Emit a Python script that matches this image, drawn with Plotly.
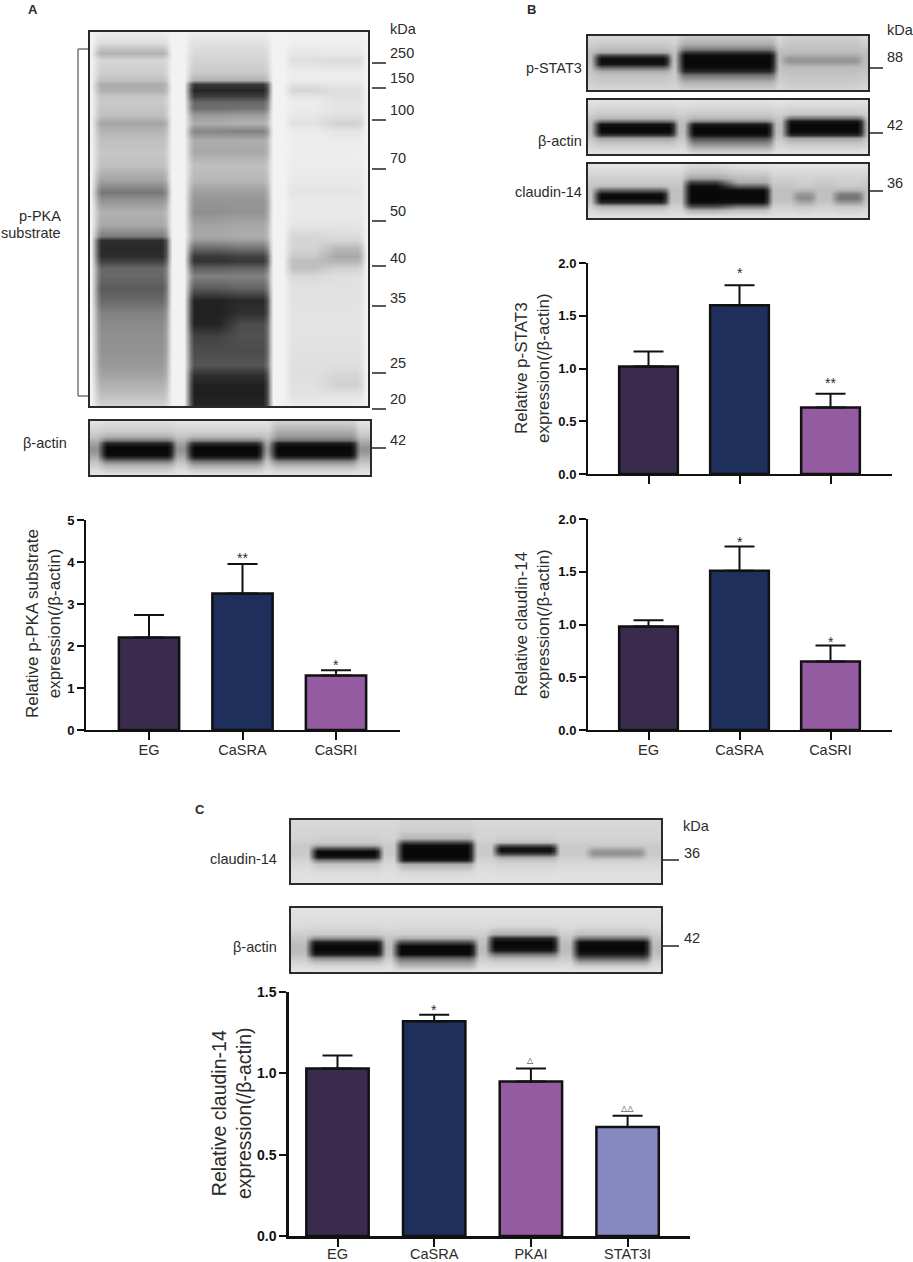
import plotly.graph_objects as go

W, H = 913, 1262
FONT = 'Liberation Sans, Arial, sans-serif'
INK = '#2b2b2b'

# bar chart values (mean and the upper error length)
groups_abc = ['EG', 'CaSRA', 'CaSRI']
groups_c = ['EG', 'CaSRA', 'PKAI', 'STAT3I']

pka_mean = [2.2, 3.25, 1.3]
pka_err = [0.54, 0.70, 0.12]
pka_marks = ['', '**', '*']

stat3_mean = [1.02, 1.6, 0.63]
stat3_err = [0.14, 0.19, 0.13]
stat3_marks = ['', '*', '**']

cldn_mean = [0.98, 1.51, 0.65]
cldn_err = [0.06, 0.23, 0.15]
cldn_marks = ['', '*', '*']

cldn_c_mean = [1.03, 1.32, 0.95, 0.67]
cldn_c_err = [0.08, 0.04, 0.08, 0.07]
cldn_c_marks = ['', '*', '△', '△△']

bar_colors = ['#3a2a4d', '#1f2f5c', '#955ba0', '#8589c0']

# blot densities, grey level per row (0 black, 255 white)
pka_rows = [32, 42, 53, 60, 72, 80, 84, 90, 96, 102, 108, 115, 123, 131, 140, 152, 165, 180, 192, 202,
            212, 225, 236, 240, 248, 256, 261, 268, 276, 288, 300, 312, 324, 336, 350, 365, 375, 385, 395, 406]
pka_bg = [242] * 40
pka_lane1 = [235, 222, 175, 212, 205, 190, 170, 172, 195, 200, 195, 190, 162, 178, 190, 195, 190, 160, 115, 150,
             175, 165, 120, 40, 35, 38, 60, 98, 100, 85, 100, 125, 135, 140, 143, 150, 160, 175, 190, 210]
pka_lane2 = [235, 225, 215, 210, 200, 175, 50, 30, 55, 100, 105, 150, 170, 130, 170, 165, 190, 180, 155, 145,
             140, 160, 165, 150, 100, 50, 45, 90, 125, 85, 28, 25, 28, 60, 70, 80, 40, 25, 25, 30]
pka_lane2b = [235, 225, 215, 210, 200, 175, 50, 30, 55, 100, 110, 155, 175, 125, 170, 165, 190, 180, 155, 145,
              145, 165, 170, 155, 110, 60, 50, 95, 125, 95, 35, 40, 70, 75, 70, 80, 40, 25, 25, 30]
pka_lane3 = [240, 238, 230, 222, 235, 235, 225, 212, 228, 235, 235, 230, 225, 235, 236, 237, 235, 232, 228, 232,
             232, 228, 212, 212, 210, 200, 188, 190, 215, 225, 225, 226, 226, 226, 224, 222, 222, 224, 226, 238]
pka_lane3b = [240, 238, 232, 218, 235, 235, 230, 222, 222, 226, 228, 222, 208, 228, 235, 237, 235, 232, 228, 232,
              232, 228, 218, 212, 182, 165, 178, 208, 222, 225, 225, 226, 226, 226, 224, 222, 212, 208, 226, 238]

actin_a_rows = [422, 430, 436, 440, 443, 447, 451, 455, 458, 461, 465, 470, 474]
actin_a_bg = [225, 210, 195, 175, 160, 145, 145, 160, 175, 190, 205, 220, 228]
actin_a_lane1 = [220, 205, 175, 120, 30, 0, 0, 5, 50, 120, 175, 205, 225]
actin_a_lane2 = [225, 210, 185, 130, 40, 0, 0, 5, 40, 110, 165, 205, 225]
actin_a_lane3 = [205, 175, 150, 110, 20, 0, 0, 5, 50, 130, 175, 210, 225]

stat3_rows = [37, 44, 49, 52, 55, 58, 61, 64, 67, 71, 75, 82, 89]
stat3_bg = [215, 205, 195, 190, 185, 185, 185, 190, 190, 195, 200, 205, 215]
stat3_lane1 = [212, 200, 185, 170, 70, 10, 5, 15, 90, 170, 190, 200, 212]
stat3_lane2 = [195, 170, 120, 50, 5, 0, 0, 0, 5, 30, 110, 175, 205]
stat3_lane3 = [205, 195, 190, 185, 170, 150, 145, 165, 185, 190, 195, 200, 210]

actin_b_rows = [101, 108, 114, 118, 121, 124, 128, 132, 135, 138, 142, 147, 153]
actin_b_bg = [225, 215, 205, 195, 190, 185, 185, 185, 190, 195, 205, 215, 225]
actin_b_lane1 = [225, 212, 198, 180, 110, 10, 0, 5, 50, 160, 190, 210, 225]
actin_b_lane2 = [225, 212, 198, 180, 130, 20, 0, 0, 15, 70, 120, 170, 215]
actin_b_lane3 = [225, 212, 195, 110, 15, 0, 0, 5, 40, 160, 190, 210, 225]

cldn_b_rows = [165, 172, 178, 182, 186, 190, 194, 198, 202, 206, 210, 215, 217]
cldn_b_bg = [225, 215, 205, 200, 195, 190, 190, 190, 195, 205, 215, 222, 226]
cldn_b_lane1 = [225, 215, 205, 200, 185, 90, 5, 0, 30, 170, 205, 220, 226]
cldn_b_lane2 = [215, 195, 160, 60, 5, 0, 0, 0, 5, 70, 170, 215, 226]
cldn_b_lane2b = [225, 205, 185, 170, 90, 5, 0, 0, 10, 110, 190, 218, 226]
cldn_b_lane3 = [225, 215, 208, 205, 200, 180, 145, 135, 165, 195, 210, 222, 226]
cldn_b_lane4 = [225, 215, 208, 205, 200, 175, 120, 110, 150, 195, 210, 222, 226]

cldn_c_rows = [821, 830, 838, 842, 845, 848, 851, 854, 857, 860, 864, 872, 882]
cldn_c_bg = [215, 212, 210, 205, 200, 200, 200, 200, 205, 210, 215, 222, 225]
cldn_c_lane1 = [215, 212, 205, 200, 170, 80, 5, 0, 20, 120, 195, 218, 225]
cldn_c_lane2 = [210, 205, 180, 70, 5, 0, 0, 0, 0, 20, 170, 215, 225]
cldn_c_lane3 = [215, 212, 205, 190, 80, 10, 10, 70, 165, 195, 210, 220, 225]
cldn_c_lane4 = [215, 212, 210, 205, 200, 175, 145, 145, 175, 205, 215, 222, 225]

actin_c_rows = [909, 918, 926, 934, 938, 942, 946, 950, 954, 958, 962, 966, 971]
actin_c_bg = [225, 222, 218, 205, 195, 190, 185, 185, 190, 200, 212, 220, 228]
actin_c_lane1 = [225, 222, 215, 200, 140, 20, 0, 0, 20, 140, 190, 215, 228]
actin_c_lane2 = [225, 222, 215, 205, 170, 70, 0, 0, 5, 100, 150, 185, 225]
actin_c_lane3 = [225, 222, 215, 170, 30, 0, 0, 15, 110, 180, 205, 218, 228]
actin_c_lane4 = [225, 222, 215, 190, 110, 5, 0, 0, 20, 90, 160, 205, 228]

fig = go.Figure()
axis_count = 0


def next_axes():
    global axis_count
    axis_count += 1
    n = '' if axis_count == 1 else str(axis_count)
    return 'x' + n, 'y' + n, 'xaxis' + n, 'yaxis' + n


def label(x, y, text, size=14.5, anchor='left', bold=False):
    if bold:
        text = '<b>' + text + '</b>'
    fig.add_annotation(xref='paper', yref='paper', x=x / W, y=1 - y / H, text=text, showarrow=False,
                       xanchor=anchor, yanchor='middle', align='center',
                       font=dict(family=FONT, size=size, color=INK))


def ytitle(x, y, text, size=17):
    fig.add_annotation(xref='paper', yref='paper', x=x / W, y=1 - y / H, text=text, showarrow=False,
                       textangle=-90, xanchor='center', yanchor='middle', align='center',
                       font=dict(family=FONT, size=size, color=INK))


def line(x0, y0, x1, y1, color='#222222', width=1.5):
    fig.add_shape(type='line', xref='paper', yref='paper', x0=x0 / W, x1=x1 / W, y0=1 - y0 / H, y1=1 - y1 / H,
                  line=dict(color=color, width=width))


def mix(profile, bg, share):
    return [b + (p - b) * share for p, b in zip(profile, bg)]


def blot(box, rows, bg, lanes):
    """box is the frame in page pixels, lanes is a list of (x start, x end, profile[, right part profile])"""
    left, top, right, bottom = box
    xs = [left]
    cols = [bg]
    for lane in lanes:
        start, end, first = lane[0] - 3, lane[1] + 3, lane[2]
        last = lane[3] if len(lane) > 3 else first
        # band ends fade over a few pixels so the dark core comes out rounded
        reach = min(7, (end - start) / 3)
        xs += [start - 3, start, start + reach / 2, start + reach]
        cols += [bg, mix(first, bg, 0.35), mix(first, bg, 0.8), first]
        if last is not first:
            mid = (start + end) / 2
            xs += [mid - 11, mid + 11]
            cols += [first, last]
        xs += [end - reach, end - reach / 2, end, end + 3]
        cols += [last, mix(last, bg, 0.8), mix(last, bg, 0.35), bg]
    xs.append(right)
    cols.append(bg)
    z = [[col[i] for col in cols] for i in range(len(rows))]
    xid, yid, xname, yname = next_axes()
    fig.add_trace(go.Heatmap(x=xs, y=rows, z=z, zmin=0, zmax=255, zsmooth='best', showscale=False,
                             colorscale=[[0, '#080808'], [1, '#ffffff']], xaxis=xid, yaxis=yid,
                             hoverinfo='skip'))
    frame = dict(showline=True, mirror=True, linecolor='#2a2a2a', linewidth=1.5, showticklabels=False,
                 ticks='', showgrid=False, zeroline=False, automargin=False)
    fig.update_layout({
        xname: dict(frame, domain=[left / W, right / W], range=[left, right], anchor=yid),
        yname: dict(frame, domain=[1 - bottom / H, 1 - top / H], range=[bottom, top], anchor=xid),
    })


def bars(names, mean, err, marks, shifts, px_x, px_y, ymax, dtick, size=13, ticklabels=True, lw=2, standoff=-2):
    """px_x = (axis left, first bar centre, bar spacing, axis right), px_y = (top, bottom)"""
    left, first, step, right = px_x
    top, bottom = px_y
    xid, yid, xname, yname = next_axes()
    idx = list(range(len(names)))
    fig.add_trace(go.Bar(x=idx, y=mean, width=0.645, xaxis=xid, yaxis=yid,
                         marker=dict(color=bar_colors[:len(names)], line=dict(color='#111111', width=2.5)),
                         error_y=dict(type='data', symmetric=False, array=err, arrayminus=[0] * len(err),
                                      color='#111111', thickness=2, width=15)))
    fig.update_layout({
        xname: dict(domain=[left / W, right / W], range=[(left - first) / step, (right - first) / step],
                    anchor=yid, tickvals=idx, ticktext=names if ticklabels else [''] * len(names),
                    ticks='outside', ticklen=8, tickwidth=2, tickcolor='#111111', showline=True,
                    linecolor='#111111', linewidth=lw, showgrid=False, zeroline=False, automargin=False,
                    ticklabelstandoff=standoff, tickfont=dict(family=FONT, size=14.5, color=INK)),
        yname: dict(domain=[1 - bottom / H, 1 - top / H], range=[0, ymax], anchor=xid, dtick=dtick,
                    tickformat='.1f' if dtick < 1 else 'd', ticks='outside', ticklen=7, tickwidth=2,
                    tickcolor='#111111', showline=True, linecolor='#111111', linewidth=lw, showgrid=False,
                    zeroline=False, automargin=False,
                    tickfont=dict(family=FONT, size=size, color='#111111', weight='bold')),
    })
    for i in idx:
        if marks[i]:
            is_tri = '△' in marks[i]
            fig.add_annotation(x=i, y=mean[i] + err[i], xref=xid, yref=yid, text=marks[i], showarrow=False,
                               yanchor='bottom', yshift=shifts[i],
                               font=dict(family=FONT if not is_tri else 'DejaVu Sans',
                                         size=14 if not is_tri else 8, color=INK))


# panel A
blot((90, 32, 368, 406), pka_rows, pka_bg,
     [(97, 166, pka_lane1), (190, 267, pka_lane2, pka_lane2b), (289, 361, pka_lane3, pka_lane3b)])
blot((90, 421, 370, 475), actin_a_rows, actin_a_bg,
     [(103, 171, actin_a_lane1), (190, 260, actin_a_lane2), (274, 354, actin_a_lane3)])
bars(groups_abc, pka_mean, pka_err, pka_marks, [0, -4, -5], (86, 149, 93.5, 400), (520, 730), 5, 1)

# panel B
blot((588, 36, 868, 90), stat3_rows, stat3_bg,
     [(597, 667, stat3_lane1), (681, 773, stat3_lane2), (785, 858, stat3_lane3)])
blot((588, 100, 868, 154), actin_b_rows, actin_b_bg,
     [(597, 673, actin_b_lane1), (690, 770, actin_b_lane2), (787, 861, actin_b_lane3)])
blot((588, 164, 868, 218), cldn_b_rows, cldn_b_bg,
     [(597, 665, cldn_b_lane1), (687, 767, cldn_b_lane2, cldn_b_lane2b), (796, 812, cldn_b_lane3),
      (836, 860, cldn_b_lane4)])
bars(groups_abc, stat3_mean, stat3_err, stat3_marks, [0, 2, 1], (588, 648.5, 91, 892), (263, 474), 2, 0.5,
     ticklabels=False)
bars(groups_abc, cldn_mean, cldn_err, cldn_marks, [0, -6, -6], (588, 648.5, 91, 892), (519, 730), 2, 0.5)

# panel C
blot((291, 820, 661, 883), cldn_c_rows, cldn_c_bg,
     [(314, 378, cldn_c_lane1), (400, 471, cldn_c_lane2), (497, 554, cldn_c_lane3), (590, 642, cldn_c_lane4)])
blot((291, 908, 661, 972), actin_c_rows, actin_c_bg,
     [(311, 380, actin_c_lane1), (397, 473, actin_c_lane2), (491, 555, actin_c_lane3), (576, 647, actin_c_lane4)])
bars(groups_c, cldn_c_mean, cldn_c_err, cldn_c_marks, [0, -5, 1, 1], (289, 337.5, 96.7, 690), (992, 1236), 1.5, 0.5,
     size=14, lw=2.5, standoff=-5)

# panel letters
label(26, 9, 'A', size=13, bold=True)
label(525, 9, 'B', size=13, bold=True)
label(193, 809, 'C', size=13, bold=True)

# panel A annotation
line(88, 49, 78, 49, color='#777777')
line(78, 49, 78, 396, color='#777777')
line(78, 396, 88, 396, color='#777777')
label(63, 216, 'p-PKA', anchor='right')
label(63, 233, 'substrate', anchor='right')
label(69, 443, 'β-actin', anchor='right')
label(388, 29, 'kDa')
for text, ty, my in [('250', 53, 63), ('150', 78, 88), ('100', 110, 120), ('70', 158, 169), ('50', 211, 221),
                     ('40', 258, 266), ('35', 298, 306), ('25', 363, 373), ('20', 399, 409)]:
    label(388, ty, text)
    line(372, my, 386, my)
label(388, 440, '42')
line(372, 448, 386, 448)
ytitle(44, 624, 'Relative p-PKA substrate<br>expression(/β-actin)')

# panel B annotation
label(885, 30, 'kDa')
label(584, 68, 'p-STAT3', anchor='right')
label(584, 141, 'β-actin', anchor='right')
label(584, 192, 'claudin-14', anchor='right')
for text, ty, my in [('88', 57, 68), ('42', 125, 133), ('36', 183, 191)]:
    label(885, ty, text)
    line(868, my, 883, my)
ytitle(533, 368, 'Relative p-STAT3<br>expression(/β-actin)')
ytitle(533, 624, 'Relative claudin-14<br>expression(/β-actin)')

# panel C annotation
label(681, 826, 'kDa')
label(279, 859, 'claudin-14', anchor='right')
label(279, 947, 'β-actin', anchor='right')
for text, ty, my in [('36', 853, 860), ('42', 938, 946)]:
    label(682, ty, text)
    line(663, my, 679, my)
ytitle(231, 1113, 'Relative claudin-14<br>expression(/β-actin)', size=19.5)

fig.update_layout(width=W, height=H, margin=dict(l=0, r=0, t=0, b=0, autoexpand=False), showlegend=False,
                  paper_bgcolor='white', plot_bgcolor='white', font=dict(family=FONT, color=INK))

fig.write_html("out.html", config={'displayModeBar': False}, post_script="document.body.style.margin='0';")
